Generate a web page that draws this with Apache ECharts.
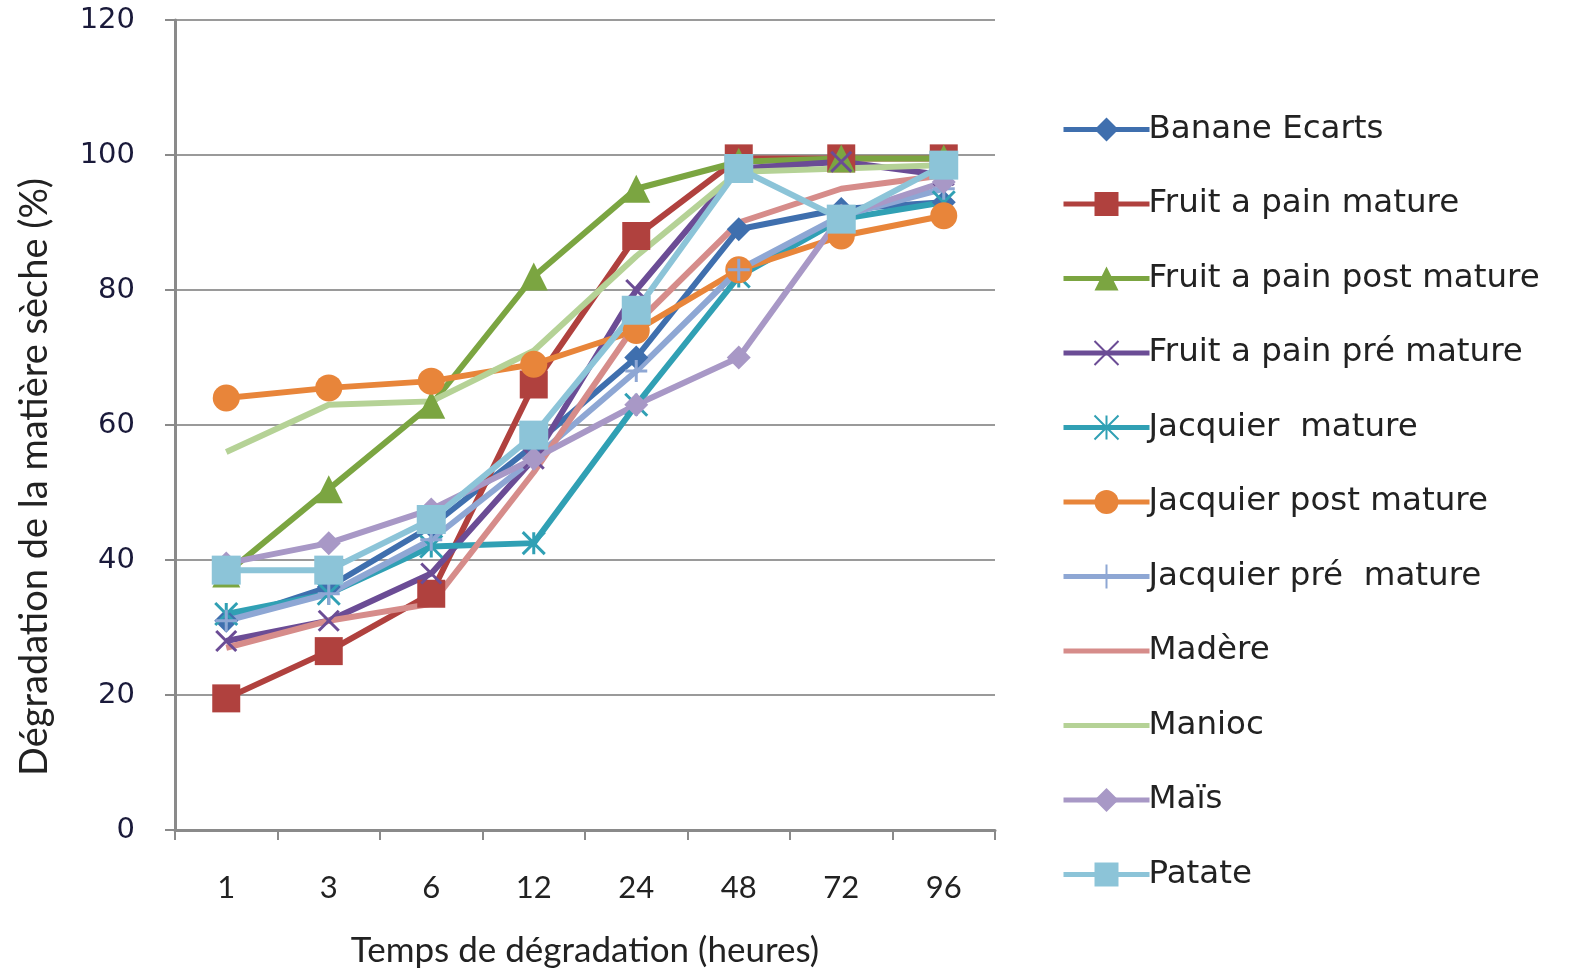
<!DOCTYPE html>
<html>
<head>
<meta charset="utf-8">
<script src="https://cdn.jsdelivr.net/npm/echarts@6/dist/echarts.min.js"></script>
<style>
  html, body { margin: 0; padding: 0; background: #fff; }
  #chart { width: 1571px; height: 973px; }
</style>
</head>
<body>
<div id="chart"></div>
<script>
  // temps (heures)
  var hours = ['1', '3', '6', '12', '24', '48', '72', '96'];
  var yTicks = [0, 20, 40, 60, 80, 100, 120];

  var banane = [31, 36, 45, 57, 70, 89, 92, 93];
  var fpMature = [19.5, 26.5, 35, 66, 88, 99.5, 99.5, 99.5];
  var fpPost = [38, 50.5, 63, 82, 95, 99, 99.5, 99.5];
  var fpPre = [28, 31, 38, 55, 80, 98, 99, 97];
  var jacMature = [32, 35, 42, 42.5, 63, 82, 90.5, 93];
  var jacPost = [64, 65.5, 66.5, 69, 74, 83, 88, 91];
  var jacPre = [31, 35, 43, 55, 68, 83, 91, 95];
  var madere = [27, 31, 33.5, 53, 75, 90, 95, 97];
  var manioc = [56, 63, 63.5, 71, 85, 97.5, 98, 98.5];
  var mais = [39.5, 42.5, 47.5, 55, 63, 70, 91, 96];
  var patate = [38.5, 38.5, 46, 58.5, 77, 98, 90.5, 98.5];

  var X_PATH = 'path://M0,0L10,10M10,0L0,10';
  var STAR_PATH = 'path://M5,0L5,10M0,0L10,10M10,0L0,10';
  var PLUS_PATH = 'path://M5,0L5,10M0,5L10,5';

  function mk(name, data, color, symbol, size) {
    return {
      name: name,
      type: 'line',
      data: data,
      symbol: symbol || 'none',
      symbolSize: size || 0,
      showSymbol: !!symbol,
      lineStyle: { color: color, width: 6 },
      itemStyle: { color: color, borderColor: color, borderWidth: (symbol && symbol.indexOf('path://') === 0) ? 3 : 0 },
      emphasis: { disabled: true },
      animation: false
    };
  }

  var names = ['Banane Ecarts', 'Fruit a pain mature', 'Fruit a pain post mature', 'Fruit a pain pré mature',
    'Jacquier  mature', 'Jacquier post mature', 'Jacquier pré  mature', 'Madère', 'Manioc', 'Maïs', 'Patate'];
  // Madère et Manioc : pas de marqueur dans la légende
  var legendData = names.map(function (n) {
    return (n === 'Madère' || n === 'Manioc') ? { name: n, itemStyle: { opacity: 0 } } : { name: n };
  });

  var chart = echarts.init(document.getElementById('chart'));
  chart.setOption({
    backgroundColor: '#fff',
    grid: { left: 175, right: 576, top: 20, bottom: 141 },
    legend: {
      orient: 'vertical',
      left: 1056,
      top: 108,
      itemWidth: 86,
      itemHeight: 30,
      itemGap: 41.5,
      lineStyle: { width: 5 },
      textStyle: { fontFamily: 'DejaVu Sans', fontSize: 32.5, lineHeight: 30, color: '#222', padding: [0, 0, 0, -6] },
      data: legendData
    },
    graphic: [{
      type: 'text',
      left: 16,
      top: 178,
      rotation: Math.PI / 2,
      style: { text: 'Dégradation de la matière sèche (%)', font: '38px Lato', fill: '#222' }
    }],
    xAxis: {
      type: 'category',
      data: hours,
      boundaryGap: true,
      name: 'Temps de dégradation (heures)',
      nameLocation: 'middle',
      nameGap: 103,
      nameTextStyle: { fontFamily: 'Lato', fontSize: 35, color: '#222' },
      axisLine: { lineStyle: { color: '#8a8a8a', width: 3 } },
      axisTick: { show: true, length: 10, lineStyle: { color: '#8a8a8a', width: 2 } },
      axisLabel: { fontFamily: 'Lato', fontSize: 31, color: '#222', margin: 42 }
    },
    yAxis: {
      type: 'value',
      min: yTicks[0],
      max: yTicks[yTicks.length - 1],
      interval: 20,
      axisLine: { show: true, lineStyle: { color: '#8a8a8a', width: 3 } },
      axisTick: { show: true, length: 10, lineStyle: { color: '#8a8a8a', width: 2 } },
      splitLine: { lineStyle: { color: '#9a9a9a', width: 2 } },
      axisLabel: { fontFamily: 'DejaVu Sans', fontSize: 29, color: '#1a1a3a', margin: 40 }
    },
    series: [
      mk(names[0], banane, '#3f6fae', 'diamond', 24),
      mk(names[1], fpMature, '#b0413e', 'rect', 28),
      mk(names[2], fpPost, '#7ba541', 'triangle', 28),
      mk(names[3], fpPre, '#6b4c95', X_PATH, 20),
      mk(names[4], jacMature, '#30a0b4', STAR_PATH, 22),
      mk(names[5], jacPost, '#e8853a', 'circle', 27),
      mk(names[6], jacPre, '#8ea7d4', PLUS_PATH, 22),
      mk(names[7], madere, '#d68c8a', null),
      mk(names[8], manioc, '#b5d296', null),
      mk(names[9], mais, '#a898c6', 'diamond', 24),
      mk(names[10], patate, '#8cc4d8', 'rect', 29)
    ]
  });
</script>
</body>
</html>
